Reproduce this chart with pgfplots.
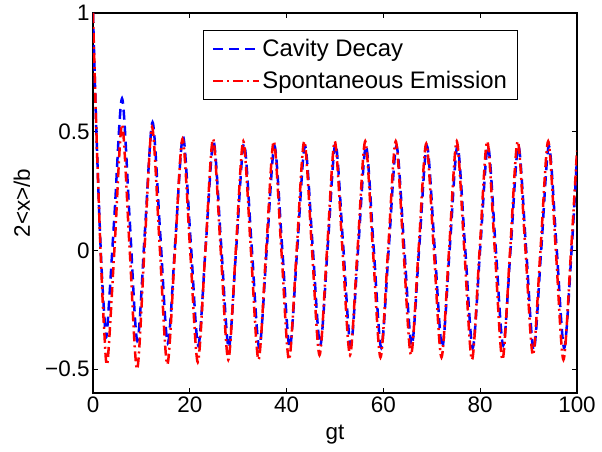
\documentclass[border=0pt]{standalone}
\usepackage{fontspec}
\setmainfont{Liberation Sans}
\usepackage{pgfplots}
\pgfplotsset{compat=1.18}

\begin{document}
\begin{tikzpicture}
\begin{axis}[
  scale only axis, width=484bp, height=380bp,
  xmin=0, xmax=100, ymin=-0.6, ymax=1,
  xtick={0,20,40,60,80,100},
  ytick={-0.5,0,0.5,1},
  yticklabels={−0.5,0,0.5,1},
  /pgf/number format/assume math mode=true,
  tick align=inside, major tick length=5bp,
  tick style={black, line width=0.8bp},
  axis line style={black, line width=1.2bp},
  ticklabel style={font=\fontsize{22.5}{26}\selectfont},
  label style={font=\fontsize{22.5}{26}\selectfont},
  xlabel={gt}, ylabel={2<x>/b},
  xlabel style={at={(axis description cs:0.5,-0.11)}, anchor=center},
  ylabel style={at={(axis description cs:-0.147,0.5)}, anchor=center},
  legend style={at={(rel axis cs:0.878,0.955)}, anchor=north east,
    draw=black, line width=1bp, fill=white,
    font=\fontsize{24}{28}\selectfont, row sep=9bp,
    inner xsep=8.5bp, inner ysep=7bp},
  legend cell align=left,
  legend image code/.code={\draw[#1] (0bp,0bp) -- (46bp,0bp);},
]
% cavity decay
\addplot[blue, line width=2.5bp, dash pattern=on 10bp off 6bp, smooth] coordinates {
(0,1.0) (0.7,0.5) (1.6,0.0) (2.3,-0.26) (2.85,-0.35)
(4.425,0.145) (6.0,0.64) (7.575,0.13) (9.15,-0.38)
(10.725,0.08) (12.3,0.54) (13.875,0.075) (15.45,-0.39)
(17.025,0.045) (18.6,0.48) (20.175,0.04) (21.75,-0.40)
(23.325,0.03) (24.9,0.46) (26.475,0.025) (28.05,-0.41)
(29.625,0.02) (31.2,0.45) (32.775,0.02) (34.35,-0.41)
(35.925,0.015) (37.5,0.44) (39.075,0.015) (40.65,-0.41)
(42.225,0.015) (43.8,0.44) (45.375,0.02) (46.95,-0.40)
(48.525,0.025) (50.1,0.45) (51.675,0.025) (53.25,-0.40)
(54.825,0.02) (56.4,0.44) (57.975,0.015) (59.55,-0.41)
(61.125,0.015) (62.7,0.44) (64.275,0.02) (65.85,-0.40)
(67.425,0.02) (69.0,0.44) (70.575,0.015) (72.15,-0.41)
(73.725,0.015) (75.3,0.44) (76.875,0.015) (78.45,-0.41)
(80.025,0.015) (81.6,0.44) (83.175,0.02) (84.75,-0.40)
(86.325,0.02) (87.9,0.44) (89.475,0.01) (91.05,-0.42)
(92.625,0.01) (94.2,0.44) (95.775,0.015) (97.35,-0.41)
(98.925,0.015) (100,0.39)
};
\addlegendentry{Cavity Decay}
% spontaneous emission
\addplot[red, line width=2.5bp, dash pattern=on 10bp off 4bp on 2bp off 4bp, smooth] coordinates {
(0,1.0) (0.7,0.5) (1.6,-0.02) (2.3,-0.33) (3.0,-0.47)
(4.5,0.03) (6.0,0.53) (7.55,0.015) (9.1,-0.50)
(10.65,0.01) (12.2,0.52) (13.775,0.02) (15.35,-0.48)
(16.925,-0.005) (18.5,0.47) (20.075,0.0) (21.65,-0.47)
(23.225,0.0) (24.8,0.47) (26.375,0.005) (27.95,-0.46)
(29.5,0.0) (31.05,0.46) (32.625,0.0) (34.2,-0.46)
(35.775,0.0) (37.35,0.46) (38.925,0.0) (40.5,-0.46)
(42.075,0.0) (43.65,0.46) (45.225,0.01) (46.8,-0.44)
(48.375,0.01) (49.95,0.46) (51.525,0.01) (53.1,-0.44)
(54.675,0.01) (56.25,0.46) (57.825,0.005) (59.4,-0.45)
(60.975,0.005) (62.55,0.46) (64.125,0.01) (65.7,-0.44)
(67.275,0.005) (68.85,0.45) (70.425,0.0) (72.0,-0.45)
(73.575,0.005) (75.15,0.46) (76.725,0.0) (78.3,-0.46)
(79.875,0.0) (81.45,0.46) (83.025,0.0) (84.6,-0.46)
(86.175,0.0) (87.75,0.46) (89.325,0.01) (90.9,-0.44)
(92.475,0.01) (94.05,0.46) (95.625,0.0) (97.2,-0.46)
(98.775,0.0) (100,0.42)
};
\addlegendentry{Spontaneous Emission}
\end{axis}
\path (current axis.south west) +(-93bp,-59bp);
\path (current axis.north east) +(25bp,13bp);
\end{tikzpicture}
\end{document}
